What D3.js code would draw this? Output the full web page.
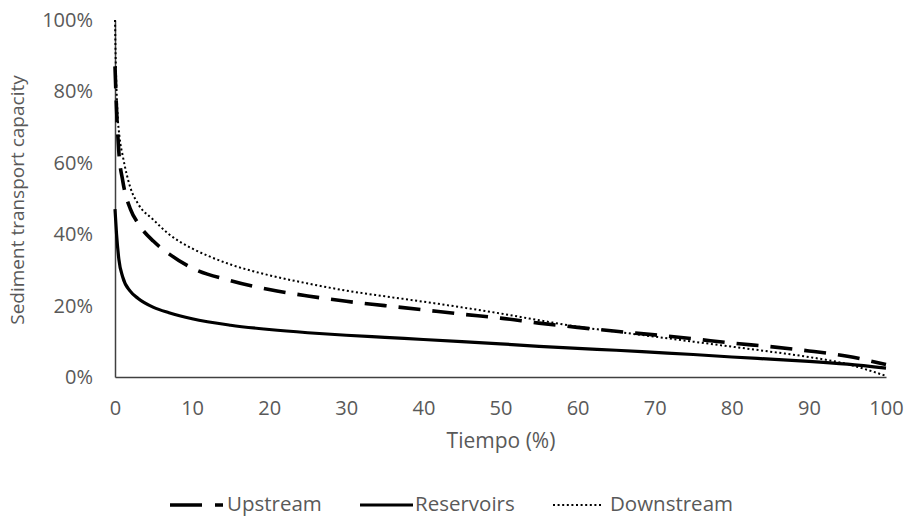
<!DOCTYPE html>
<html>
<head>
<meta charset="utf-8">
<script src="https://cdn.jsdelivr.net/npm/d3@7"></script>
<style>
  html, body { margin: 0; padding: 0; background: #fff; }
  svg text { font-family: "Open Sans", sans-serif; fill: #595959; }
</style>
</head>
<body>
<svg id="chart" width="911" height="517"></svg>
<script>
// Time (% of time) sample points
const upstreamT   = [0, 0.2, 0.5, 1, 2, 3, 5, 7, 10, 15, 20, 25, 30, 35, 40, 45, 50, 55, 60, 65, 70, 75, 80, 85, 90, 95, 100];
const upstreamV   = [87, 75, 63, 55, 47, 43, 38, 34.5, 30.5, 27, 24.5, 22.7, 21.2, 20, 18.8, 17.6, 16.5, 15.1, 13.9, 12.8, 11.8, 10.7, 9.5, 8.5, 7.3, 5.8, 3.5];

const reservoirsT = [0, 0.2, 0.5, 1, 2, 3, 5, 7, 10, 15, 20, 25, 30, 35, 40, 45, 50, 55, 60, 65, 70, 75, 80, 85, 90, 95, 100];
const reservoirsV = [47, 40, 33, 28, 24, 22, 19.5, 18, 16.3, 14.5, 13.3, 12.4, 11.7, 11.1, 10.5, 9.9, 9.3, 8.6, 8.0, 7.5, 6.9, 6.3, 5.6, 5.0, 4.4, 3.6, 2.5];

const downstreamT = [0, 0.1, 0.3, 0.6, 1, 2, 3, 5, 7, 10, 12, 15, 20, 25, 30, 35, 40, 45, 50, 55, 60, 65, 70, 75, 80, 85, 90, 95, 100];
const downstreamV = [100, 88, 75, 67, 62, 53, 48.5, 44, 40, 36, 34, 31.5, 28.5, 26.2, 24.2, 22.6, 21.1, 19.5, 17.8, 15.9, 14.1, 12.7, 11.3, 9.9, 8.5, 7.1, 5.6, 3.6, 0.3];

const xTicks = [0, 10, 20, 30, 40, 50, 60, 70, 80, 90, 100];
const yTicks = [0, 20, 40, 60, 80, 100];

const seriesNames = ["Upstream", "Reservoirs", "Downstream"];

const svg = d3.select("#chart");
const x = d3.scaleLinear().domain([0, 100]).range([115, 886]);
const y = d3.scaleLinear().domain([0, 100]).range([377, 20]);

const styles = {
  Upstream:   { width: 3.6, dash: "22,12", legendDash: "32,13,8" },
  Reservoirs: { width: 3.2, dash: null, legendDash: null },
  Downstream: { width: 2, dash: "2,2.6", legendDash: "2,2.6" }
};

// Axes
const xAxis = d3.axisBottom(x).tickValues(xTicks).tickSize(0).tickPadding(24).tickFormat(d3.format("d"));
const yAxis = d3.axisLeft(y).tickValues(yTicks).tickSize(0).tickPadding(22).tickFormat(d => d + "%");

const gx = svg.append("g").attr("transform", `translate(0,${y(0)})`).call(xAxis);
gx.select(".domain").attr("stroke", "#404040").attr("stroke-width", 1.5);
gx.selectAll("text").style("font-size", "20px").attr("dy", "0.71em");

const gy = svg.append("g").attr("transform", `translate(${x(0)},0)`).call(yAxis);
gy.select(".domain").attr("stroke", "#404040").attr("stroke-width", 1.5);
gy.selectAll("text").style("font-size", "20px");

// Axis titles
svg.append("text").attr("x", 501).attr("y", 448).attr("text-anchor", "middle")
  .style("font-size", "21px").text("Tiempo (%)");
svg.append("text").attr("transform", "translate(24,200) rotate(-90)").attr("text-anchor", "middle")
  .style("font-size", "19px").text("Sediment transport capacity");

// Lines
const line = d3.line().x(d => x(d[0])).y(d => y(d[1])).curve(d3.curveMonotoneX);
const data = {
  Upstream: d3.zip(upstreamT, upstreamV),
  Reservoirs: d3.zip(reservoirsT, reservoirsV),
  Downstream: d3.zip(downstreamT, downstreamV)
};
["Reservoirs", "Upstream", "Downstream"].forEach(name => {
  const s = styles[name];
  svg.append("path").datum(data[name])
    .attr("fill", "none").attr("stroke", "#000")
    .attr("stroke-width", s.width)
    .attr("stroke-dasharray", s.dash)
    .attr("d", line);
});

// Legend
const legendSampleX = [170, 360, 553];
const legendSampleW = [53, 53, 50];
const legendTextX = [227, 415, 610];
const legendY = 505;
const lg = svg.append("g");
seriesNames.forEach((name, i) => {
  const s = styles[name];
  const x0 = legendSampleX[i];
  lg.append("line").attr("x1", x0).attr("x2", x0 + legendSampleW[i]).attr("y1", legendY).attr("y2", legendY)
    .attr("stroke", "#000").attr("stroke-width", s.width)
    .attr("stroke-dasharray", s.legendDash);
  lg.append("text").attr("x", legendTextX[i]).attr("y", legendY + 6)
    .style("font-size", "20.5px").text(name);
});
</script>
</body>
</html>
